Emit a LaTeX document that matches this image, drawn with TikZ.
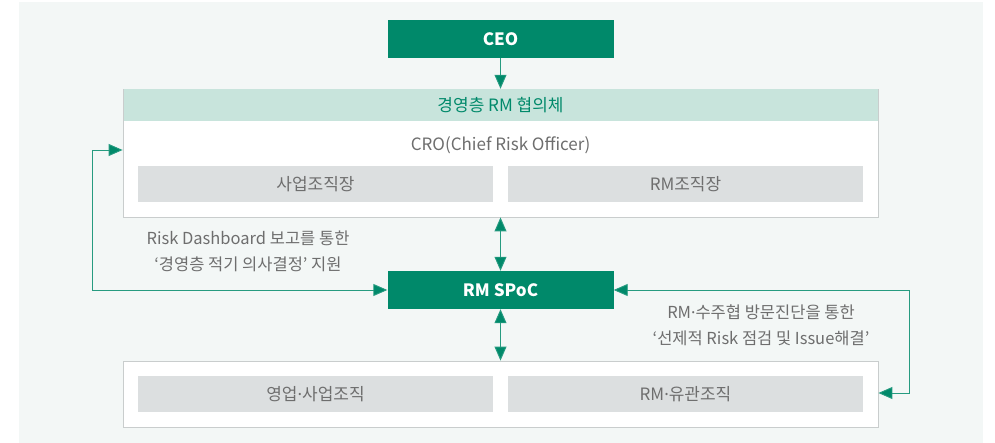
\documentclass[tikz,border=0pt]{standalone}
\usepackage{fontspec}
\setmainfont{Noto Sans CJK KR}
\newfontfamily\dotfont{Noto Sans}
\newcommand{\mdot}{{\dotfont ·}}
\usetikzlibrary{arrows.meta}
\definecolor{skgreen}{HTML}{00896A}
\definecolor{bgpanel}{HTML}{F3F7F6}
\definecolor{headband}{HTML}{C8E4DC}
\definecolor{grayfill}{HTML}{DCDFE0}
\definecolor{txtgray}{HTML}{6E6E6E}
\definecolor{bordergray}{HTML}{C9CDCD}
\tikzset{
  greenbox/.style={fill=skgreen,draw=none,minimum width=226pt,minimum height=38pt,inner sep=0pt,text=white,font=\fontsize{17}{20}\selectfont\bfseries},
  panel/.style={fill=white,draw=bordergray,line width=0.8pt,inner sep=0pt},
  graybox/.style={fill=grayfill,draw=none,minimum width=355pt,minimum height=36pt,inner sep=0pt,text=txtgray,font=\fontsize{17}{20}\selectfont},
  note/.style={text=txtgray,font=\fontsize{16.5}{26}\selectfont,align=center,inner sep=0pt},
  conn/.style={draw=skgreen!85,line width=0.9pt,{Triangle[length=14pt,width=12pt,fill=skgreen]}-{Triangle[length=14pt,width=12pt,fill=skgreen]}},
  connend/.style={draw=skgreen!85,line width=0.9pt,-{Triangle[length=14pt,width=12pt,fill=skgreen]}}
}
\begin{document}
\begin{tikzpicture}[x=1pt,y=-1pt]
\useasboundingbox (0,0) rectangle (995,443);
\fill[white] (0,0) rectangle (995,443);
\fill[bgpanel] (19,2) rectangle (983,443);
% nodes
\node[greenbox] (ceo) at (500.5,39) {CEO};
\node[panel,minimum width=755pt,minimum height=128pt] (upper) at (500.5,153) {};
\node[fill=headband,draw=none,minimum width=754pt,minimum height=32pt,inner sep=0pt,text=skgreen,font=\fontsize{17}{20}\selectfont] (header) at (500.5,105) {경영층 RM 협의체};
\node[text=txtgray,font=\fontsize{17}{20}\selectfont,inner sep=0pt] (cro) at (500.5,145) {CRO(Chief Risk Officer)};
\node[graybox] (saj) at (315.5,184) {사업조직장};
\node[graybox] (rmj) at (685.5,184) {RM조직장};
\node[greenbox] (spoc) at (500.5,290) {RM SPoC};
\node[panel,minimum width=755pt,minimum height=66pt] (lower) at (500.5,394) {};
\node[graybox] (yeop) at (315.5,394) {영업\mdot 사업조직};
\node[graybox] (rmyu) at (685.5,394) {RM\mdot 유관조직};
\node[note] (noteL) at (248,251) {Risk Dashboard 보고를 통한\\‘경영층 적기 의사결정’ 지원};
\node[note] (noteR) at (761,325) {RM\mdot 수주협 방문진단을 통한\\‘선제적 Risk 점검 및 Issue해결’};
% connectors
\coordinate (L1) at (92,150);
\coordinate (L2) at (92,290);
\coordinate (R1) at (909,290);
\coordinate (R2) at (909,393);
\draw[connend] (ceo.south) -- (header.north);
\draw[conn] (upper.south) -- (spoc.north);
\draw[conn] (spoc.south) -- (lower.north);
\draw[conn] (spoc.west) -- (L2) -- (L1) -- (upper.west |- L1);
\draw[conn] (spoc.east) -- (R1) -- (R2) -- (lower.east |- R2);
\end{tikzpicture}
\end{document}
